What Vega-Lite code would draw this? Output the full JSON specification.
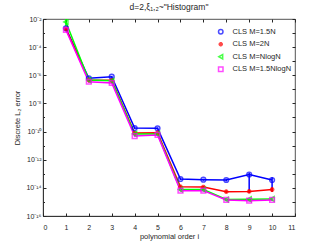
{
  "$schema": "https://vega.github.io/schema/vega-lite/v6.json",
  "width": 252,
  "height": 197,
  "autosize": {"type": "none"},
  "padding": {"left": 43, "top": 19, "right": 32, "bottom": 29},
  "background": "white",
  "config": {
    "font": "Liberation Sans",
    "view": {"stroke": "#262626", "strokeWidth": 0.8},
    "axis": {"domainColor": "#262626", "tickColor": "#262626", "labelColor": "#262626", "titleColor": "#262626", "grid": false, "labelFont": "Liberation Sans", "titleFont": "Liberation Sans", "titleFontWeight": "normal"}
  },
  "title": {"text": "d=2,ξ₁,₂~\"Histogram\"", "fontSize": 8.5, "fontWeight": "normal", "font": "Liberation Sans", "color": "#262626", "offset": 4},
  "data": {"values": [
    {"i": 1, "s": "CLS M=1.5N", "v": 2.19e-3, "lo": 1.9e-3, "hi": 2.5e-3},
    {"i": 2, "s": "CLS M=1.5N", "v": 6.17e-7, "lo": 5.4e-7, "hi": 7.0e-7},
    {"i": 3, "s": "CLS M=1.5N", "v": 7.94e-7, "lo": 6.9e-7, "hi": 9.1e-7},
    {"i": 4, "s": "CLS M=1.5N", "v": 1.78e-10, "lo": 1.55e-10, "hi": 2.05e-10},
    {"i": 5, "s": "CLS M=1.5N", "v": 1.70e-10, "lo": 1.48e-10, "hi": 1.95e-10},
    {"i": 6, "s": "CLS M=1.5N", "v": 4.27e-14, "lo": 3.6e-14, "hi": 5.0e-14},
    {"i": 7, "s": "CLS M=1.5N", "v": 3.80e-14, "lo": 3.2e-14, "hi": 4.5e-14},
    {"i": 8, "s": "CLS M=1.5N", "v": 3.63e-14, "lo": 2.9e-14, "hi": 4.4e-14},
    {"i": 9, "s": "CLS M=1.5N", "v": 8.9e-14, "lo": 4.27e-15, "hi": 1.12e-13},
    {"i": 10, "s": "CLS M=1.5N", "v": 3.63e-14, "lo": 5.4e-15, "hi": 5.6e-14},
    {"i": 1, "s": "CLS M=2N", "v": 2.0e-3, "lo": 1.75e-3, "hi": 2.3e-3},
    {"i": 2, "s": "CLS M=2N", "v": 4.57e-7, "lo": 4.0e-7, "hi": 5.2e-7},
    {"i": 3, "s": "CLS M=2N", "v": 4.37e-7, "lo": 3.8e-7, "hi": 5.0e-7},
    {"i": 4, "s": "CLS M=2N", "v": 7.94e-11, "lo": 6.9e-11, "hi": 9.1e-11},
    {"i": 5, "s": "CLS M=2N", "v": 8.3e-11, "lo": 7.2e-11, "hi": 9.5e-11},
    {"i": 6, "s": "CLS M=2N", "v": 1.20e-14, "lo": 1.0e-14, "hi": 1.4e-14},
    {"i": 7, "s": "CLS M=2N", "v": 1.15e-14, "lo": 9.6e-15, "hi": 1.35e-14},
    {"i": 8, "s": "CLS M=2N", "v": 5.37e-15, "lo": 4.3e-15, "hi": 6.6e-15},
    {"i": 9, "s": "CLS M=2N", "v": 5.62e-15, "lo": 4.5e-15, "hi": 7.0e-15},
    {"i": 10, "s": "CLS M=2N", "v": 7.6e-15, "lo": 5.0e-15, "hi": 1.12e-14},
    {"i": 1, "s": "CLS M=NlogN", "v": 6.17e-3, "lo": 3.16e-3, "hi": 1.2e-2},
    {"i": 2, "s": "CLS M=NlogN", "v": 4.57e-7, "lo": 4.0e-7, "hi": 5.2e-7},
    {"i": 3, "s": "CLS M=NlogN", "v": 4.07e-7, "lo": 3.6e-7, "hi": 4.6e-7},
    {"i": 4, "s": "CLS M=NlogN", "v": 6.76e-11, "lo": 5.9e-11, "hi": 7.7e-11},
    {"i": 5, "s": "CLS M=NlogN", "v": 6.76e-11, "lo": 5.9e-11, "hi": 7.7e-11},
    {"i": 6, "s": "CLS M=NlogN", "v": 7.59e-15, "lo": 6.6e-15, "hi": 8.7e-15},
    {"i": 7, "s": "CLS M=NlogN", "v": 7.59e-15, "lo": 6.6e-15, "hi": 8.7e-15},
    {"i": 8, "s": "CLS M=NlogN", "v": 1.48e-15, "lo": 1.3e-15, "hi": 1.7e-15},
    {"i": 9, "s": "CLS M=NlogN", "v": 1.55e-15, "lo": 1.35e-15, "hi": 1.8e-15},
    {"i": 10, "s": "CLS M=NlogN", "v": 1.62e-15, "lo": 1.4e-15, "hi": 1.85e-15},
    {"i": 1, "s": "CLS M=1.5NlogN", "v": 1.66e-3, "lo": 1.45e-3, "hi": 1.9e-3},
    {"i": 2, "s": "CLS M=1.5NlogN", "v": 3.47e-7, "lo": 3.0e-7, "hi": 4.0e-7},
    {"i": 3, "s": "CLS M=1.5NlogN", "v": 2.82e-7, "lo": 2.45e-7, "hi": 3.25e-7},
    {"i": 4, "s": "CLS M=1.5NlogN", "v": 4.79e-11, "lo": 4.2e-11, "hi": 5.5e-11},
    {"i": 5, "s": "CLS M=1.5NlogN", "v": 5.75e-11, "lo": 5.0e-11, "hi": 6.6e-11},
    {"i": 6, "s": "CLS M=1.5NlogN", "v": 6.31e-15, "lo": 5.5e-15, "hi": 7.2e-15},
    {"i": 7, "s": "CLS M=1.5NlogN", "v": 6.31e-15, "lo": 5.5e-15, "hi": 7.2e-15},
    {"i": 8, "s": "CLS M=1.5NlogN", "v": 1.38e-15, "lo": 1.2e-15, "hi": 1.6e-15},
    {"i": 9, "s": "CLS M=1.5NlogN", "v": 1.23e-15, "lo": 1.07e-15, "hi": 1.42e-15},
    {"i": 10, "s": "CLS M=1.5NlogN", "v": 1.38e-15, "lo": 1.2e-15, "hi": 1.6e-15}
  ]},
  "encoding": {
    "x": {"field": "i", "type": "quantitative", "scale": {"domain": [0, 11], "nice": false, "zero": false}},
    "color": {"field": "s", "type": "nominal", "scale": {"domain": ["CLS M=1.5N", "CLS M=2N", "CLS M=NlogN", "CLS M=1.5NlogN"], "range": ["#0000FF", "#FF0000", "#00FF00", "#FF00FF"]}, "legend": {"title": null, "orient": "none", "legendX": 174, "legendY": 9, "padding": 0, "rowPadding": 1.5, "labelFontSize": 7.5, "labelColor": "#262626", "labelFont": "Liberation Sans", "symbolSize": 20, "symbolStrokeWidth": 1.5, "labelOffset": 8, "symbolFillColor": "transparent"}}
  },
  "layer": [
    {
      "mark": {"type": "rule", "strokeWidth": 1.5, "clip": true},
      "encoding": {
        "x": {"field": "i", "type": "quantitative", "axis": {"orient": "top", "labels": false, "title": null, "domain": false, "tickSize": -3, "values": [0,1,2,3,4,5,6,7,8,9,10,11]}},
        "y": {"field": "lo", "type": "quantitative", "scale": {"type": "log", "domain": [1e-16, 1e-2], "nice": false}, "axis": {"orient": "right", "labels": false, "title": null, "domain": false, "tickSize": -3, "values": [1e-16,1e-15,1e-14,1e-13,1e-12,1e-11,1e-10,1e-9,1e-8,1e-7,1e-6,1e-5,1e-4,1e-3,1e-2]}},
        "y2": {"field": "hi"}
      }
    },
    {
      "mark": {"type": "line", "strokeWidth": 1.5, "clip": true},
      "encoding": {
        "x": {"field": "i", "type": "quantitative", "axis": {"orient": "bottom", "title": "polynomial order i", "titleFontSize": 7.5, "titlePadding": 2, "labelFontSize": 7, "labelPadding": 10, "tickSize": -3, "domainWidth": 0.8, "values": [0,1,2,3,4,5,6,7,8,9,10,11]}},
        "y": {"field": "v", "type": "quantitative", "scale": {"type": "log", "domain": [1e-16, 1e-2], "nice": false}, "axis": {"orient": "left", "title": "Discrete L₂ error", "titleFontSize": 7.5, "titlePadding": 4, "labelFontSize": 7, "labelPadding": 5, "tickSize": -3, "domainWidth": 0.8, "values": [1e-16,1e-14,1e-12,1e-10,1e-8,1e-6,1e-4,1e-2], "labelExpr": "'10⁻' + replace(replace(replace(replace(replace(replace(''+round(-log(datum.value)/LN10), '0','⁰'), '1','¹'), '2','²'), '4','⁴'), '6','⁶'), '8','⁸')"}}
      }
    },
    {
      "mark": {"type": "point", "filled": false, "strokeWidth": 1.5, "size": 22, "clip": true},
      "encoding": {
        "x": {"field": "i", "type": "quantitative", "axis": null},
        "y": {"field": "v", "type": "quantitative", "scale": {"type": "log", "domain": [1e-16, 1e-2], "nice": false}, "axis": {"orient": "left", "labels": false, "title": null, "domain": false, "tickSize": -1.5, "values": [1e-15,1e-13,1e-11,1e-9,1e-7,1e-5,1e-3]}},
        "shape": {"field": "s", "type": "nominal", "scale": {"domain": ["CLS M=1.5N", "CLS M=2N", "CLS M=NlogN", "CLS M=1.5NlogN"], "range": ["circle", "M-1,0L1,0M0,-1L0,1M-0.7,-0.7L0.7,0.7M-0.7,0.7L0.7,-0.7", "triangle-left", "square"]}, "legend": null}
      }
    }
  ],
  "resolve": {"axis": {"x": "independent", "y": "independent"}}
}
